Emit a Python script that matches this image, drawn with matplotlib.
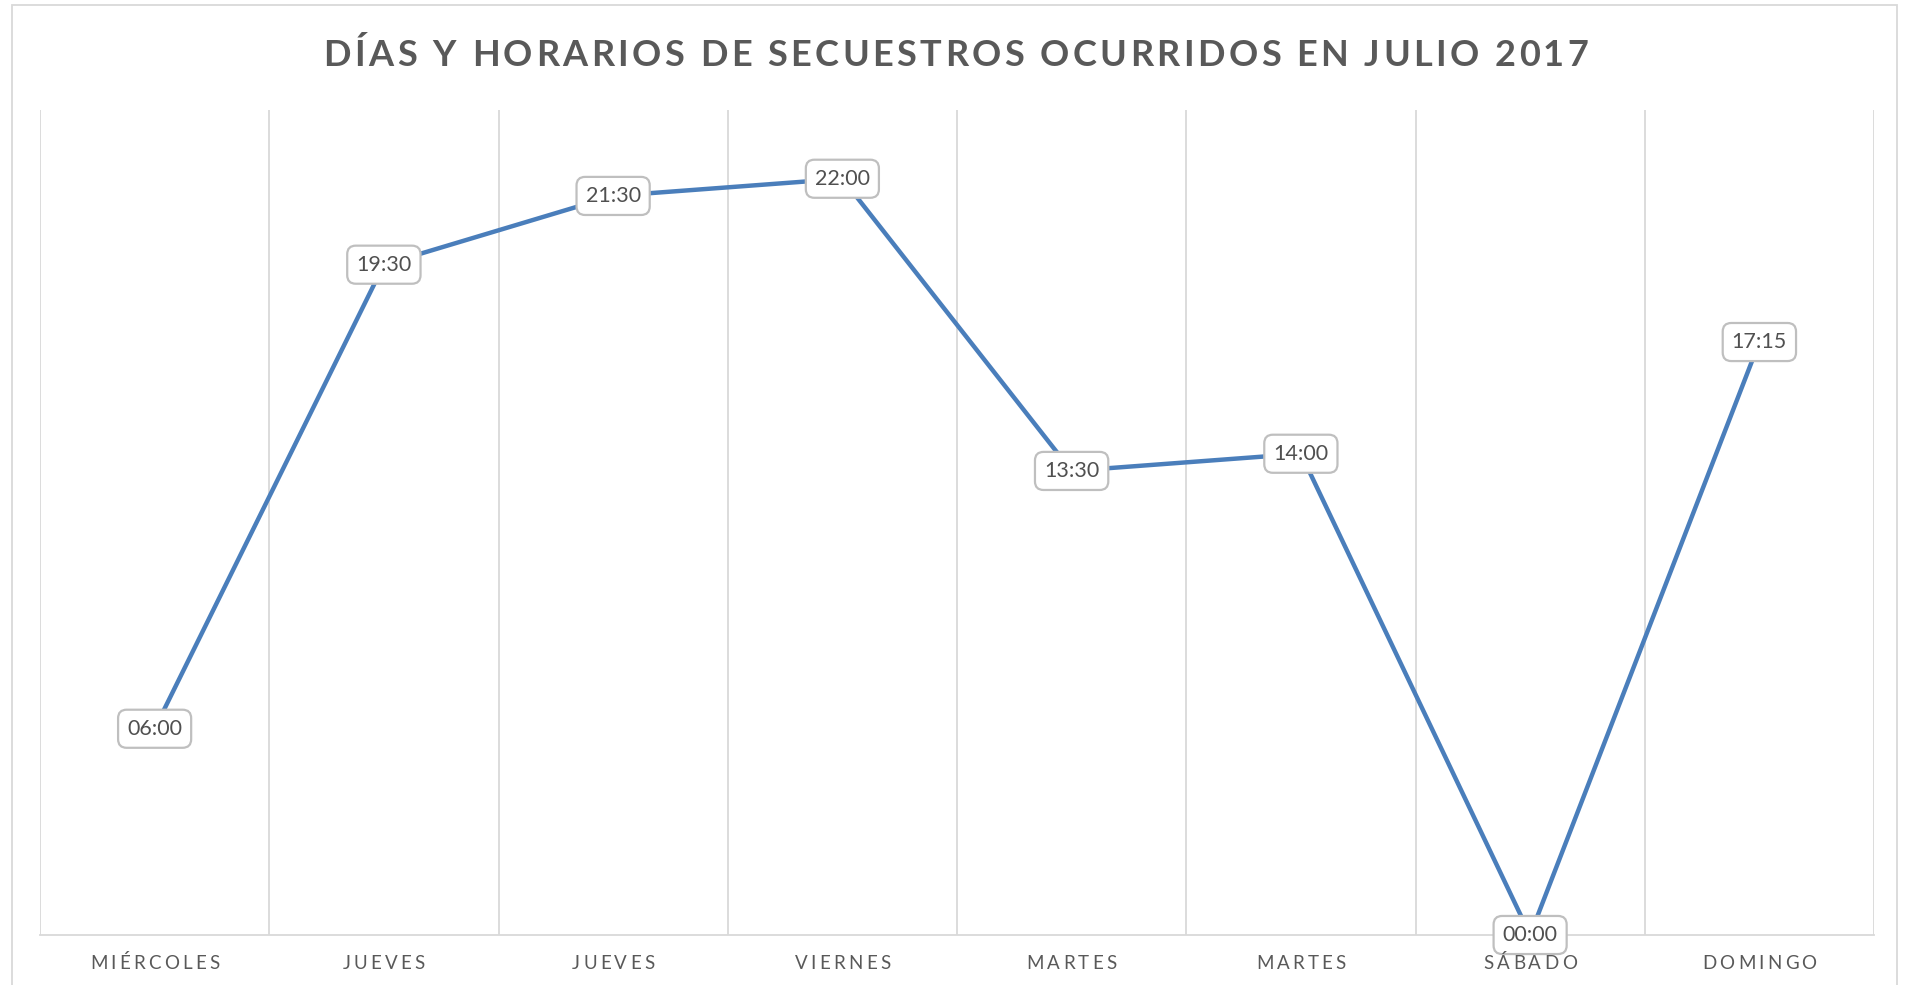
import matplotlib.pyplot as plt
from matplotlib.font_manager import FontProperties
from matplotlib.patches import Rectangle

# datos (hora del dia en horas decimales)
dias = ["MIÉRCOLES", "JUEVES", "JUEVES", "VIERNES", "MARTES", "MARTES", "SÁBADO", "DOMINGO"]
horas = [6.0, 19.5, 21.5, 22.0, 13.5, 14.0, 0.0, 17.25]
titulo = "DÍAS Y HORARIOS DE SECUESTROS OCURRIDOS EN JULIO 2017"

GRIS = "#595959"
AZUL = "#4a7ebb"
GRIS_LINEA = "#d9d9d9"


def texto_espaciado(fig, cx, y, s, espacio, fp, color):
    """Dibuja texto con espaciado entre letras, centrado en cx (pixeles)."""
    r = fig.canvas.get_renderer()
    base = r.get_text_width_height_descent("HH", fp, ismath=False)[0]
    avances = [r.get_text_width_height_descent("H" + c + "H", fp, ismath=False)[0] - base
               for c in s]
    total = sum(avances) + espacio * (len(s) - 1)
    x = cx - total / 2
    W, H = fig.bbox.width, fig.bbox.height
    for c, a in zip(s, avances):
        fig.text(x / W, y / H, c, fontproperties=fp, color=color, ha="left", va="baseline")
        x += a + espacio


def formato_hora(h):
    hh = int(h)
    mm = int(round((h - hh) * 60))
    return f"{hh:02d}:{mm:02d}"


fig = plt.figure(figsize=(19.12, 9.85), dpi=100)
ax = fig.add_axes([40 / 1912, 50 / 985, 1834 / 1912, 825 / 985])

x = list(range(len(dias)))
ax.plot(x, horas, color=AZUL, lw=3.2, solid_capstyle="round", zorder=3)

for xi, h in zip(x, horas):
    ax.annotate(formato_hora(h), (xi, h), ha="center", va="center",
                fontsize=15.5, color="#505050", family="Lato",
                bbox=dict(boxstyle="round,pad=0.42,rounding_size=0.4",
                          fc="white", ec="#bfbfbf", lw=1.6),
                zorder=5, annotation_clip=False)

ax.set_xlim(-0.5, 7.5)
ax.set_ylim(0, 24)
ax.set_xticks([i + 0.5 for i in range(-1, len(dias))])
ax.set_yticks([])
ax.grid(axis="x", color=GRIS_LINEA, lw=1.3)
ax.tick_params(length=0, labelbottom=False, labelleft=False)
for s in ["top", "right", "left"]:
    ax.spines[s].set_visible(False)
ax.spines["bottom"].set_color(GRIS_LINEA)
ax.spines["bottom"].set_linewidth(1.3)

# borde del area del grafico
fig.patches.append(Rectangle((12 / 1912, -0.1), (1897 - 12) / 1912, 0.1 + 980 / 985,
                             transform=fig.transFigure, fill=False,
                             ec=GRIS_LINEA, lw=1.3))

fp_titulo = FontProperties(family="Lato", weight="bold", size=26)
texto_espaciado(fig, 956, 919, titulo, 3.45, fp_titulo, GRIS)

fp_cat = FontProperties(family="Lato", size=13.5)
for xi, d in zip(x, dias):
    cx = ax.transData.transform((xi, 0))[0]
    texto_espaciado(fig, cx, 16, d, 3.2, fp_cat, GRIS)

fig.savefig("out.png", dpi=100)
